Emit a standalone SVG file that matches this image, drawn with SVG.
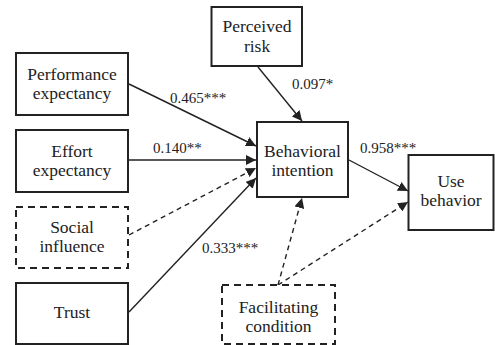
<svg xmlns="http://www.w3.org/2000/svg" width="495" height="345" viewBox="0 0 495 345">
<style>
.box{fill:#fff;stroke:#222;stroke-width:2}
.dash{fill:#fff;stroke:#222;stroke-width:2;stroke-dasharray:7,5}
.t{font-size:17.5px;fill:#222;text-anchor:middle}
.l{font-size:15px;fill:#222}
.c{stroke:#222;stroke-width:1.4;fill:none;marker-end:url(#ah)}
.cd{stroke:#222;stroke-width:1.4;fill:none;stroke-dasharray:5,4;marker-end:url(#ah)}
</style>
<defs>
<marker id="ah" markerUnits="userSpaceOnUse" markerWidth="11" markerHeight="10" refX="10" refY="5" orient="auto">
<path d="M0,0 L10,5 L0,10 Z" fill="#222"/>
</marker>
</defs>
<rect width="495" height="345" fill="#fff"/>
<g id="connectors">
<line class="c" x1="129" y1="84" x2="256" y2="146"/>
<line class="c" x1="129" y1="160" x2="256" y2="160"/>
<line class="cd" x1="129" y1="235" x2="256" y2="168"/>
<line class="c" x1="129" y1="312" x2="256" y2="178"/>
<line class="c" x1="258" y1="67" x2="302" y2="121"/>
<line class="c" x1="349" y1="160" x2="408" y2="191"/>
<line class="cd" x1="278" y1="285" x2="302" y2="198"/>
<line class="cd" x1="278" y1="285" x2="408" y2="202"/>
</g>
<g id="labels" font-family="Liberation Serif">
<text class="l" x="170" y="103" font-family="Liberation Serif">0.465***</text>
<text class="l" x="153" y="153" font-family="Liberation Serif">0.140**</text>
<text class="l" x="292" y="89" font-family="Liberation Serif">0.097*</text>
<text class="l" x="360" y="153" font-family="Liberation Serif">0.958***</text>
<text class="l" x="202" y="253" font-family="Liberation Serif">0.333***</text>
</g>
<g id="perceived-risk" font-family="Liberation Serif">
<rect class="box" x="211.5" y="7" width="90.5" height="59"/>
<text class="t" x="257" y="32" font-family="Liberation Serif">Perceived</text>
<text class="t" x="257" y="52" font-family="Liberation Serif">risk</text>
</g>
<g id="performance-expectancy" font-family="Liberation Serif">
<rect class="box" x="16" y="53" width="112" height="62"/>
<text class="t" x="72" y="80" font-family="Liberation Serif">Performance</text>
<text class="t" x="72" y="99" font-family="Liberation Serif">expectancy</text>
</g>
<g id="effort-expectancy" font-family="Liberation Serif">
<rect class="box" x="16" y="130" width="112" height="62"/>
<text class="t" x="72" y="157" font-family="Liberation Serif">Effort</text>
<text class="t" x="72" y="176" font-family="Liberation Serif">expectancy</text>
</g>
<g id="social-influence" font-family="Liberation Serif">
<rect class="dash" x="16" y="207" width="112" height="61"/>
<text class="t" x="72" y="233" font-family="Liberation Serif">Social</text>
<text class="t" x="72" y="252" font-family="Liberation Serif">influence</text>
</g>
<g id="trust" font-family="Liberation Serif">
<rect class="box" x="16" y="283" width="112" height="61"/>
<text class="t" x="72" y="318" font-family="Liberation Serif">Trust</text>
</g>
<g id="behavioral-intention" font-family="Liberation Serif">
<rect class="box" x="257" y="122" width="91" height="75"/>
<text class="t" x="302.5" y="157" font-family="Liberation Serif">Behavioral</text>
<text class="t" x="302.5" y="176" font-family="Liberation Serif">intention</text>
</g>
<g id="use-behavior" font-family="Liberation Serif">
<rect class="box" x="408.5" y="155" width="85" height="75"/>
<text class="t" x="451" y="187" font-family="Liberation Serif">Use</text>
<text class="t" x="451" y="206" font-family="Liberation Serif">behavior</text>
</g>
<g id="facilitating-condition" font-family="Liberation Serif">
<rect class="dash" x="222" y="285" width="113" height="59"/>
<text class="t" x="278.5" y="313" font-family="Liberation Serif">Facilitating</text>
<text class="t" x="278.5" y="332" font-family="Liberation Serif">condition</text>
</g>
</svg>
